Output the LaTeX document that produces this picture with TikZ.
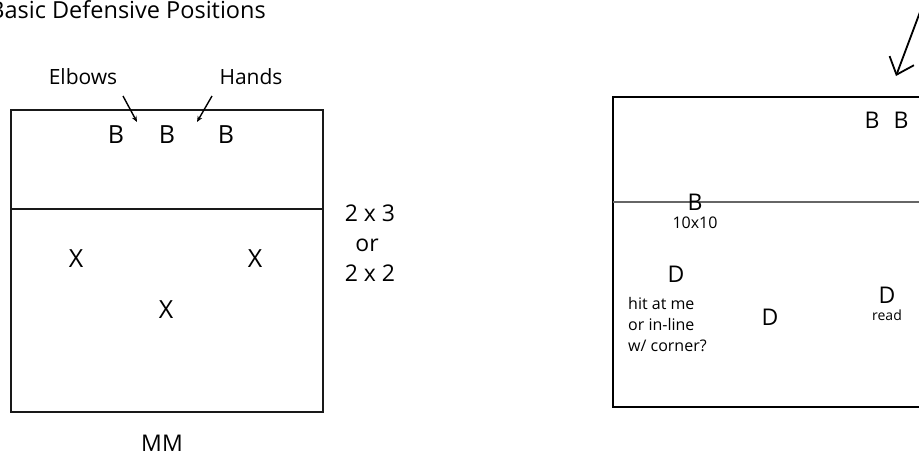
\documentclass[tikz,border=0pt]{standalone}
\usepackage{fontspec}
\setmainfont{Open Sans}
\usetikzlibrary{arrows.meta}
\begin{document}
\begin{tikzpicture}[x=1pt,y=-1pt,
  txt/.style={inner sep=0pt, text=black},
  big/.style={txt, font=\fontsize{25}{28}\selectfont},
  mid/.style={txt, font=\fontsize{23}{26}\selectfont},
  lab/.style={txt, font=\fontsize{21}{24}\selectfont},
  small/.style={txt, font=\fontsize{16}{21}\selectfont},
  tiny/.style={txt, font=\fontsize{14}{16}\selectfont},
  field/.style={draw=black!90, line width=2pt},
  rfield/.style={draw=black, line width=2.6pt},
  pointer/.style={line width=1.4pt, -{Stealth[length=6pt,width=5pt]}},
  bigarrow/.style={line width=1.8pt, -{Straight Barb[length=15pt,width=26pt,line width=1.8pt]}}
]
\useasboundingbox (0,0) rectangle (919,458);
\clip (0,0) rectangle (919,458);

% title
\node[txt, font=\fontsize{23.5}{27}\selectfont, anchor=base east] (title) at (266,18.5) {Basic Defensive Positions};

% left field
\coordinate (L1) at (11,110); \coordinate (L2) at (323,412);
\draw[field] (L1) rectangle (L2);
\coordinate (LdA) at (11,209); \coordinate (LdB) at (323,209);
\draw[field] (LdA) -- (LdB);

\node[lab] (elbows) at (83,77) {Elbows};
\node[lab] (hands) at (251,77) {Hands};
\coordinate (e0) at (123,96); \coordinate (e1) at (137,122);
\coordinate (h0) at (212,96); \coordinate (h1) at (197,122);
\draw[pointer] (e0) -- (e1);
\draw[pointer] (h0) -- (h1);

\node[big] (b1) at (116,135) {B};
\node[big] (b2) at (167,135) {B};
\node[big] (b3) at (226,135) {B};

\node[big] (x1) at (76,259) {X};
\node[big] (x2) at (255,259) {X};
\node[big] (x3) at (166,310) {X};

\node[mid] (n23) at (370,213) {2 x 3};
\node[mid] (nor) at (367,245) {or};
\node[mid] (n22) at (370,273) {2 x 2};

\node[mid] (mm) at (162,443) {MM};

% right field
\coordinate (R1) at (613,97); \coordinate (R2) at (945,407);
\draw[rfield] (R1) rectangle (R2);
\coordinate (RdA) at (613,202); \coordinate (RdB) at (945,202);
\draw[draw=black!60, line width=1.5pt] (RdA) -- (RdB);

\coordinate (a0) at (926,-4); \coordinate (a1) at (896,76);
\draw[bigarrow] (a0) -- (a1);

\node[mid] (rb1) at (872,120) {B};
\node[mid] (rb2) at (901,120) {B};

\node[mid] (rb3) at (695,202) {B};
\node[small] (ten) at (695,223) {10x10};

\node[mid] (d1) at (676,274) {D};
\node[small, align=left, anchor=north west] (hit) at (628,297) {hit at me\\or in-line\\w/ corner?};
\node[mid] (d2) at (770,317) {D};
\node[mid] (d3) at (887,295) {D};
\node[tiny] (read) at (887,315) {read};
\end{tikzpicture}
\end{document}
